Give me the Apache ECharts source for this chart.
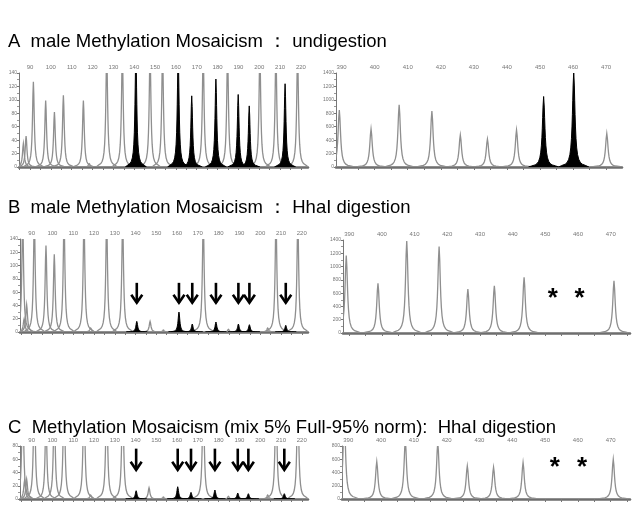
<!DOCTYPE html>
<html>
<head>
<meta charset="utf-8">
<script src="https://cdn.jsdelivr.net/npm/echarts@6/dist/echarts.min.js"></script>
<style>html,body{margin:0;padding:0;background:#fff}#c{width:642px;height:532px}</style>
</head>
<body>
<div id="c"></div>
<script>
// ---------- data ----------
const titleA = 'A  male Methylation Mosaicism \uFF1A undigestion';
const titleB = 'B  male Methylation Mosaicism \uFF1A HhaI digestion';
const titleC = 'C  Methylation Mosaicism (mix 5% Full-95% norm):  HhaI digestion';

const leftTickLabels = [90,100,110,120,130,140,150,160,170,180,190,200,210,220];
const rightTickLabels = [390,400,410,420,430,440,450,460,470];
const leftYLabels = [0,20,40,60,80,100,120,140];
const rightYLabels = [0,200,400,600,800,1000,1200,1400];
const leftYLabelsC = [0,20,40,60,80];
const rightYLabelsC = [0,200,400,600,800];

// Panel A (undigested) – left window
const aLeftGrayPos = [86.8, 88.1, 91.6, 97.5, 101.7, 106.0, 115.6, 118.4, 126.8, 134.3, 147.6, 153.6, 173.1, 184.8, 200.3, 208.0, 218.4];
const aLeftGrayVal = [35, 46, 127, 99, 82, 107, 99, 5, 170, 170, 170, 170, 170, 170, 170, 170, 170];
const aLeftBlackPos = [140.8, 161.1, 167.6, 179.2, 189.9, 195.2, 212.4];
const aLeftBlackVal = [170, 170, 106, 131, 108, 91, 124];
// Panel A – right window
const aRightGrayPos = [389.3, 398.9, 407.4, 417.3, 425.9, 434.1, 442.9, 470.2];
const aRightGrayVal = [850, 565, 925, 835, 475, 415, 550, 500];
const aRightBlackPos = [451.1, 460.2];
const aRightBlackVal = [1050, 1420];

// Panel B (male, HhaI) – left window
const bLeftGrayPos = [85.7, 86.4, 87.6, 91.3, 96.9, 100.9, 105.6, 115.2, 118.4, 126.1, 133.8, 147.0, 153.4, 172.6, 184.7, 203.6, 207.6, 218.1];
const bLeftGrayVal = [170, 20, 41, 170, 130, 117, 170, 170, 6, 170, 170, 16, 3, 170, 4, 6, 170, 170];
const bLeftBlackPos = [140.6, 160.9, 167.3, 178.7, 189.5, 194.8, 212.3];
const bLeftBlackVal = [16, 30, 12, 15, 12, 11, 10];
// Panel B – right window
const bRightGrayPos = [389.1, 398.8, 407.6, 417.5, 426.3, 434.4, 443.5, 471.0];
const bRightGrayVal = [1165, 750, 1385, 1300, 660, 710, 840, 785];
const bStars = [[452.3, 585], [460.5, 585]];

// Panel C (mix 5% full / 95% normal, HhaI) – left window
const cLeftGrayPos = [85.7, 86.6, 87.6, 91.3, 96.9, 100.9, 105.6, 115.2, 118.4, 126.1, 133.8, 146.5, 153.4, 172.6, 184.7, 203.6, 207.6, 218.1];
const cLeftGrayVal = [170, 28, 30, 170, 125, 150, 170, 170, 6, 170, 170, 17, 3, 170, 4, 6, 170, 170];
const cLeftBlackPos = [140.3, 160.3, 166.7, 178.2, 189.2, 194.3, 211.6];
const cLeftBlackVal = [12.5, 18.5, 10, 13.5, 9, 8, 8];
// Panel C – right window
const cRightGrayPos = [388.8, 398.7, 407.4, 417.3, 426.3, 434.3, 443.3, 470.8];
const cRightGrayVal = [1250, 565, 890, 850, 500, 480, 550, 600];
const cStars = [[453.0, 540], [461.3, 540]];

// ---------- helpers ----------
const zip = (p, v) => p.map((x, i) => [x, v[i]]);
const FR = [1, 0.85, 0.7, 0.55, 0.42, 0.3, 0.2, 0.13, 0.08, 0.05, 0.03, 0.015];

function peakRender(gamma, fill, stroke, lw) {
  return function (params, api) {
    const x = api.value(0), h = api.value(1);
    const right = FR.map(f => [x + gamma * Math.sqrt(1 / f - 1), h * f]);
    const edge = right[right.length - 1][0] + gamma * 2;
    const pts = [[2 * x - edge, 0]];
    for (let i = right.length - 1; i >= 1; i--) pts.push([2 * x - right[i][0], right[i][1]]);
    for (let i = 0; i < right.length; i++) pts.push(right[i]);
    pts.push([edge, 0]);
    return {
      type: 'polygon',
      shape: { points: pts.map(p => api.coord(p)) },
      style: { fill: fill, stroke: stroke, lineWidth: lw }
    };
  };
}

function arrowRender(yTop, yBot) {
  return function (params, api) {
    const x = api.value(0);
    const a = api.coord([x, yTop]), b = api.coord([x, yBot]);
    return {
      type: 'group',
      children: [
        { type: 'line', shape: { x1: a[0], y1: a[1], x2: b[0], y2: b[1] }, style: { stroke: '#000', lineWidth: 2.6 } },
        { type: 'polyline', shape: { points: [[b[0] - 5.5, b[1] - 8], [b[0], b[1]], [b[0] + 5.5, b[1] - 8]] }, style: { stroke: '#000', lineWidth: 2.6, fill: 'none' } }
      ]
    };
  };
}

function starRender(params, api) {
  const c = api.coord([api.value(0), api.value(1)]);
  return {
    type: 'text',
    x: c[0], y: c[1] + 5,
    style: { text: '*', font: 'bold 26px "Liberation Sans", Arial, sans-serif', fill: '#000', align: 'center', verticalAlign: 'middle' }
  };
}

const grids = [], xAxes = [], yAxes = [], series = [];

function range(a, b, s) { const r = []; for (let v = a; v <= b + 1e-9; v += s) r.push(v); return r; }

function addPanel(box, xmin, xmax, isLeft, ylabels, gray, black, gamma, extras) {
  const gi = grids.length;
  grids.push({ left: box[0], top: box[1], width: box[2], height: box[3] });
  const labels = isLeft ? leftTickLabels : rightTickLabels;
  const ticks = isLeft ? range(85, 220, 5) : range(390, 475, 5).filter(v => v <= xmax);
  xAxes.push({
    type: 'value', gridIndex: gi, position: 'top', min: xmin, max: xmax,
    axisLine: { show: true, lineStyle: { color: '#777', width: 1 } },
    axisTick: { show: true, inside: true, length: 3, customValues: ticks, lineStyle: { color: '#777' } },
    axisLabel: { show: true, customValues: labels, fontSize: 6, color: '#777', margin: 3, fontFamily: 'Liberation Sans' },
    splitLine: { show: false }
  });
  xAxes.push({
    type: 'value', gridIndex: gi, position: 'bottom', min: xmin, max: xmax,
    axisLine: { show: true, onZero: false, lineStyle: { color: '#6e6e6e', width: 2.5 } },
    axisTick: { show: false }, axisLabel: { show: false }, splitLine: { show: false }
  });
  const ymax = ylabels[ylabels.length - 1];
  yAxes.push({
    type: 'value', gridIndex: gi, min: 0, max: ymax, interval: ylabels[1] - ylabels[0],
    axisLine: { show: true, lineStyle: { color: '#777', width: 1 } },
    axisTick: { show: true, length: 2, lineStyle: { color: '#777' } },
    minorTick: { show: true, splitNumber: 2, length: 2, lineStyle: { color: '#999' } },
    axisLabel: { show: true, fontSize: 5, color: '#777', margin: 2, fontFamily: 'Liberation Sans', formatter: v => String(v) },
    splitLine: { show: false }
  });
  const xi = gi * 2;
  series.push({
    type: 'custom', xAxisIndex: xi, yAxisIndex: gi, clip: true, silent: true,
    renderItem: peakRender(gamma, 'rgba(255,255,255,0)', '#8f8f8f', 1.3),
    data: gray, z: 2
  });
  if (black && black.length) {
    series.push({
      type: 'custom', xAxisIndex: xi, yAxisIndex: gi, clip: true, silent: true,
      renderItem: peakRender(gamma, '#000', '#000', 1),
      data: black, z: 3
    });
  }
  if (extras && extras.arrows) {
    series.push({
      type: 'custom', xAxisIndex: xi, yAxisIndex: gi, silent: true,
      renderItem: arrowRender(extras.arrows[0], extras.arrows[1]),
      data: black.map(d => [d[0]]), z: 5
    });
  }
  if (extras && extras.stars) {
    series.push({
      type: 'custom', xAxisIndex: xi, yAxisIndex: gi, silent: true,
      renderItem: starRender, data: extras.stars, z: 5
    });
  }
}

addPanel([19, 73, 289, 94], 84.7, 223.4, true, leftYLabels, zip(aLeftGrayPos, aLeftGrayVal), zip(aLeftBlackPos, aLeftBlackVal), 0.5);
addPanel([336, 73, 286, 94], 388.3, 474.8, false, rightYLabels, zip(aRightGrayPos, aRightGrayVal), zip(aRightBlackPos, aRightBlackVal), 0.45);
addPanel([20, 239, 288, 93], 84.4, 223.0, true, leftYLabels, zip(bLeftGrayPos, bLeftGrayVal), zip(bLeftBlackPos, bLeftBlackVal), 0.5, { arrows: [74, 44] });
addPanel([343, 240, 287, 93], 388.1, 475.9, false, rightYLabels, zip(bRightGrayPos, bRightGrayVal), [], 0.45, { stars: bStars });
addPanel([20, 446, 288, 53], 84.4, 223.0, true, leftYLabelsC, zip(cLeftGrayPos, cLeftGrayVal), zip(cLeftBlackPos, cLeftBlackVal), 0.5, { arrows: [76, 44] });
addPanel([342, 446, 288, 53], 388.1, 475.9, false, rightYLabelsC, zip(cRightGrayPos, cRightGrayVal), [], 0.45, { stars: cStars });

const titleStyle = { font: '18.5px "Liberation Sans", Arial, sans-serif', fill: '#000' };
const chart = echarts.init(document.getElementById('c'), null, { renderer: 'canvas' });
chart.setOption({
  animation: false,
  backgroundColor: '#fff',
  grid: grids, xAxis: xAxes, yAxis: yAxes, series: series,
  graphic: [
    { type: 'text', left: 8, top: 32, style: Object.assign({ text: titleA }, titleStyle) },
    { type: 'text', left: 8, top: 198, style: Object.assign({ text: titleB }, titleStyle) },
    { type: 'text', left: 8, top: 418, style: Object.assign({ text: titleC }, titleStyle) }
  ]
});
</script>
</body>
</html>
